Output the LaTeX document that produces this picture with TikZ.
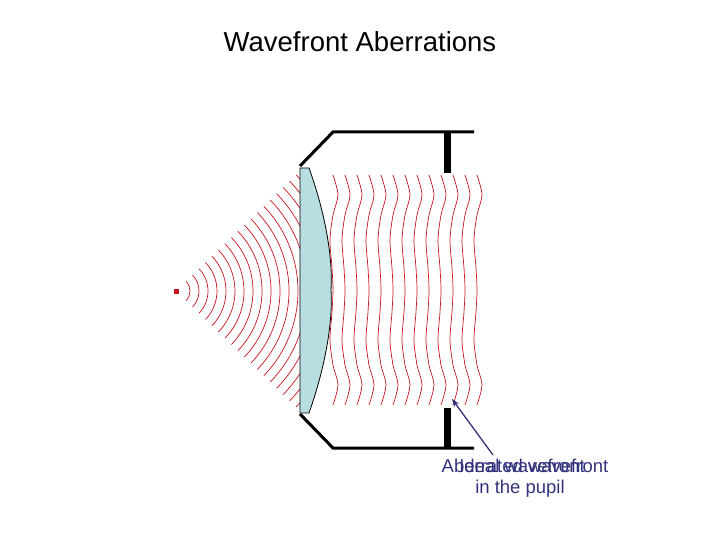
\documentclass[tikz,border=0pt]{standalone}
\usepackage{fontspec}
\setmainfont{Liberation Sans}
\usetikzlibrary{arrows.meta}
\definecolor{lensblue}{RGB}{184,222,226}
\definecolor{wave}{RGB}{200,20,30}
\definecolor{navy}{RGB}{50,50,125}
\tikzset{
  housing/.style={line width=3pt, black},
  stopbar/.style={line width=7pt, black},
  wavefront/.style={wave, line width=0.7pt},
  lbl/.style={navy, font=\fontsize{18.5}{22}\selectfont, inner sep=0pt}
}
\begin{document}
\begin{tikzpicture}[x=1pt,y=-1pt]
\useasboundingbox (0,0) rectangle (720,540);
\node[font=\fontsize{27.5}{32}\selectfont] (title) at (360,42) {Wavefront Aberrations};
% housing
\draw[housing] (300,166) -- (333,132) -- (474,132);
\draw[housing] (300,414) -- (333,448) -- (474,448);
\draw[stopbar] (447,132) -- (447,173);
\draw[stopbar] (447,408) -- (447,448);
% spherical wavefronts
\begin{scope}
\clip (0,0) rectangle (300,540);
\foreach \r in {14,23,...,170} {
  \draw[wavefront] (176,291) ++(-44:\r) arc[start angle=-44, end angle=44, radius=\r];
}
\end{scope}
% lens
\draw[fill=lensblue, line width=0.8pt] (300,168) -- (309,168) .. controls (326,215) and (333,260) .. (331,290) .. controls (333,320) and (326,365) .. (309,413) -- (300,413) -- cycle;
% aberrated wavefronts
\foreach \x in {333,345,...,477} {
  \draw[wavefront] plot[smooth] coordinates {(\x,175) (\x+5,195) (\x,215) (\x-3,240) (\x-1,268) (\x,290) (\x-1,312) (\x-3,340) (\x,365) (\x+5,385) (\x,405)};
}
% source
\node[fill=wave, minimum size=5pt, inner sep=0pt] (src) at (176,291) {};
% label
\node[lbl] (ab) at (525,466) {Aberrated wavefront};
\node[lbl] (id) at (522,466) {Ideal wavefront};
\node[lbl] (pup) at (520,489) {in the pupil};
\coordinate (tip) at (452,399);
\draw[navy, line width=1.3pt, -{Stealth[length=8pt]}] (493,455) -- (tip);
\end{tikzpicture}
\end{document}
